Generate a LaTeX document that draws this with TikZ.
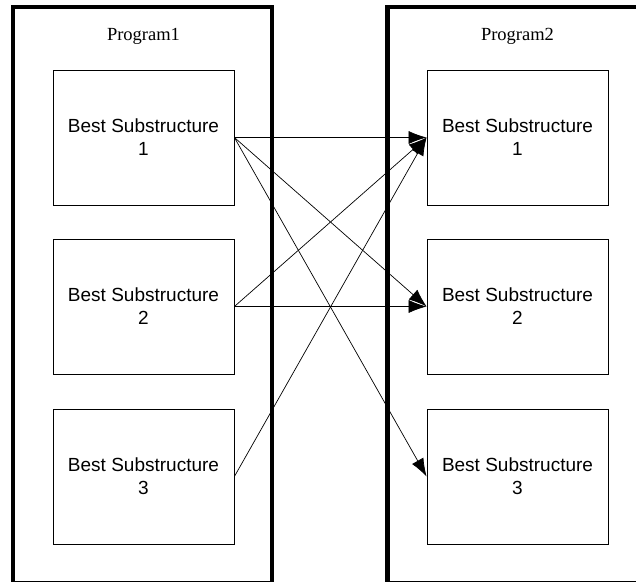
\documentclass[tikz,border=0pt]{standalone}
\usepackage{fontspec}
\setmainfont{Liberation Serif}
\newfontfamily\arialfont{Liberation Sans}
\usetikzlibrary{arrows.meta}
\begin{document}
\begin{tikzpicture}[x=1pt,y=-1pt,
  sub/.style={draw, line width=0.8pt, minimum width=181pt, minimum height=135pt,
    inner sep=0pt, align=center, font=\arialfont\fontsize{19}{23}\selectfont},
  prog/.style={font=\fontsize{18.5}{22}\selectfont, inner sep=0pt},
  outer/.style={draw, line width=1pt, inner sep=0pt},
  thickside/.style={line width=4.5pt, line join=miter},
  link/.style={line width=0.7pt, -{Latex[length=18pt,width=13pt]}}]
\useasboundingbox (0,0) rectangle (636,582);
\clip (0,0) rectangle (636,582);
\fill[white] (0,0) rectangle (636,582);

% outer program boxes
\node[outer, minimum width=258pt, minimum height=573.5pt] (P1) at (142.5,294.25) {};
\draw[thickside] (P1.south west) -- (P1.north west) -- (P1.north east) -- (P1.south east);
\node[outer, minimum width=312pt, minimum height=573.5pt] (P2) at (544,294.25) {};
\draw[thickside] (P2.south west) -- (P2.north west) -- (P2.north east) -- (P2.south east);

\node[prog] (t1) at (143.5,36.5) {Program1};
\node[prog] (t2) at (517.5,36.5) {Program2};

% substructure boxes
\node[sub] (a1) at (143.5,137.5) {Best Substructure\\1};
\node[sub] (a2) at (143.5,306.5) {Best Substructure\\2};
\node[sub] (a3) at (143.5,476.5) {Best Substructure\\3};
\node[sub] (b1) at (517.5,137.5) {Best Substructure\\1};
\node[sub] (b2) at (517.5,306.5) {Best Substructure\\2};
\node[sub] (b3) at (517.5,476.5) {Best Substructure\\3};

% connectors
\draw[link] (a1.east) -- (b1.west);
\draw[link] (a1.east) -- (b2.west);
\draw[link] (a1.east) -- (b3.west);
\draw[link] (a2.east) -- (b1.west);
\draw[link] (a2.east) -- (b2.west);
\draw[link] (a3.east) -- (b1.west);
\end{tikzpicture}
\end{document}
